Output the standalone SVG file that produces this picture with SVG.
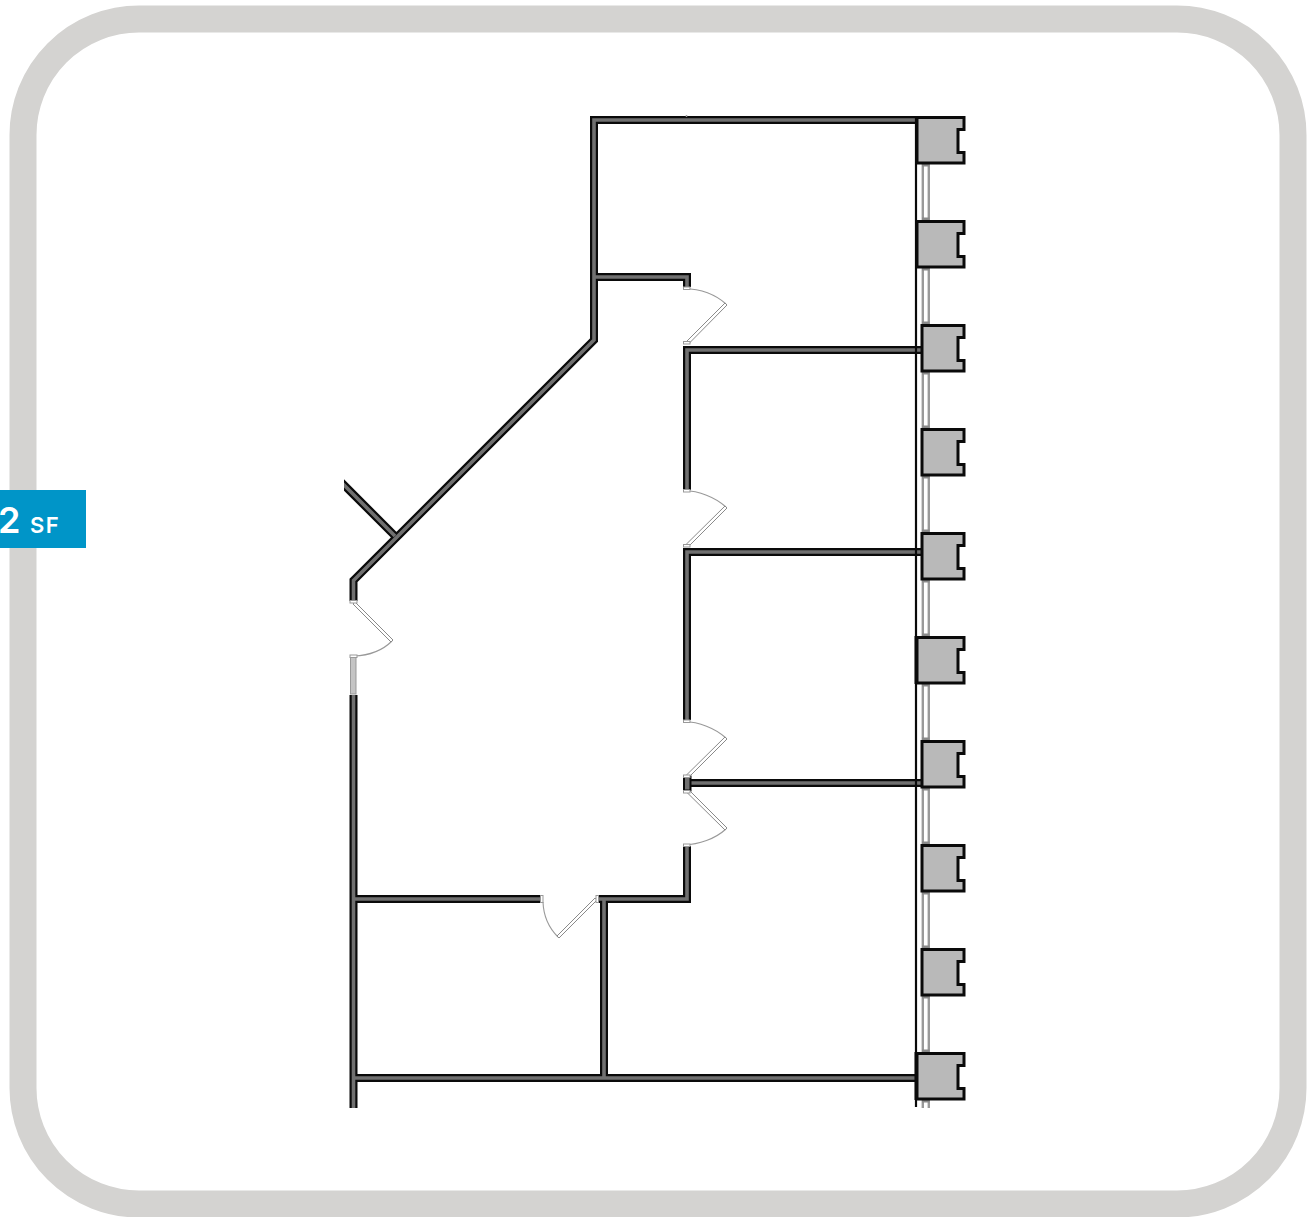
<svg xmlns="http://www.w3.org/2000/svg" width="1315" height="1217" viewBox="0 0 1315 1217">
<style>
.wo{fill:none;stroke:#0a0a0a;stroke-width:8;stroke-linejoin:miter;stroke-linecap:butt}
.wi{fill:none;stroke:#707070;stroke-width:3.600;stroke-linejoin:miter;stroke-linecap:butt}
.col{fill:#b9b9b9;stroke:#0a0a0a;stroke-width:3;stroke-linejoin:miter}
.arc{fill:none;stroke:#999;stroke-width:1.1}
.leaf{fill:#fff;stroke:#8a8a8a;stroke-width:1}
.jamb{fill:#fff;stroke:#999;stroke-width:1}
.win{fill:#fff;stroke:#999;stroke-width:2.400}
.cap{fill:#8a8a8a}
.lbl{font-family:Inter,"Open Sans",sans-serif;fill:#fff;font-weight:600}
</style>
<defs>
<path id="cw" class="col" d="M917 0H964V12H958V35H964V45.500H917Z"/>
<path id="cn" class="col" d="M922 0H964V12H958V35H964V45.500H922Z"/>
<clipPath id="plan"><rect x="344" y="100" width="640" height="1020"/></clipPath>
</defs>
<rect id="frame" x="23" y="19" width="1270" height="1185" rx="116" ry="116" fill="#fff" stroke="#d4d3d1" stroke-width="27"/>
<g id="windows">
<rect class="win" x="922.800" y="164" width="6" height="56"/><rect class="cap" x="922" y="164" width="7.500" height="2.500"/><rect class="cap" x="922" y="217.500" width="7.500" height="2.500"/>
<rect class="win" x="922.800" y="268" width="6" height="56"/><rect class="cap" x="922" y="268" width="7.500" height="2.500"/><rect class="cap" x="922" y="321.500" width="7.500" height="2.500"/>
<rect class="win" x="922.800" y="372" width="6" height="56"/><rect class="cap" x="922" y="372" width="7.500" height="2.500"/><rect class="cap" x="922" y="425.500" width="7.500" height="2.500"/>
<rect class="win" x="922.800" y="476" width="6" height="56"/><rect class="cap" x="922" y="476" width="7.500" height="2.500"/><rect class="cap" x="922" y="529.500" width="7.500" height="2.500"/>
<rect class="win" x="922.800" y="580" width="6" height="56"/><rect class="cap" x="922" y="580" width="7.500" height="2.500"/><rect class="cap" x="922" y="633.500" width="7.500" height="2.500"/>
<rect class="win" x="922.800" y="684" width="6" height="56"/><rect class="cap" x="922" y="684" width="7.500" height="2.500"/><rect class="cap" x="922" y="737.500" width="7.500" height="2.500"/>
<rect class="win" x="922.800" y="788" width="6" height="56"/><rect class="cap" x="922" y="788" width="7.500" height="2.500"/><rect class="cap" x="922" y="841.500" width="7.500" height="2.500"/>
<rect class="win" x="922.800" y="892" width="6" height="56"/><rect class="cap" x="922" y="892" width="7.500" height="2.500"/><rect class="cap" x="922" y="945.500" width="7.500" height="2.500"/>
<rect class="win" x="922.800" y="996" width="6" height="56"/><rect class="cap" x="922" y="996" width="7.500" height="2.500"/><rect class="cap" x="922" y="1049.500" width="7.500" height="2.500"/>
<path d="M922.800 1100V1108M928.800 1100V1108" class="win"/><rect class="cap" x="922" y="1100" width="7.500" height="2.500"/>
<rect x="350.500" y="657" width="5.500" height="37" fill="#c4c4c4" stroke="#999" stroke-width="1"/>
</g>
<g id="walls">
<g clip-path="url(#plan)">
<path class="wo" d="M916 120H594V340L353.500 580.500V601M340 481L395 536M594 277H687V287M687 490V350H922M687 720V552H922M687 783H922M687 846V899H597M541 899H353.500M604 899V1078M353.500 695V1108M353.500 1078H916"/>
<path class="wi" d="M916 120H594V340L353.500 580.500V601M340 481L395 536M594 277H687V287M687 490V350H922M687 720V552H922M687 783H922M687 846V899H597M541 899H353.500M604 899V1078M353.500 695V1108M353.500 1078H916"/>
</g>
<rect x="684" y="776.500" width="6.500" height="14" fill="#707070" stroke="#0a0a0a" stroke-width="2"/>
<path d="M916 116V1107" stroke="#0a0a0a" stroke-width="2.200" fill="none"/>
<path d="M686.500 115v2" stroke="#999" stroke-width="1.500"/>
</g>
<g id="columns">
<use href="#cw" y="117.500"/>
<use href="#cw" y="221.500"/>
<use href="#cn" y="325.500"/>
<use href="#cn" y="429.500"/>
<use href="#cn" y="533.500"/>
<use href="#cw" y="637.500"/>
<use href="#cn" y="741.500"/>
<use href="#cn" y="845.500"/>
<use href="#cn" y="949.500"/>
<use href="#cw" y="1053.500"/>
<rect x="914.500" y="636" width="2.500" height="48" fill="#0a0a0a"/>
<rect x="914.500" y="1052" width="2.500" height="48" fill="#0a0a0a"/>
</g>
<g id="doors">
<g id="door-1"><path class="arc" d="M684 288.500C699 289 715 294 726 304"/><path class="leaf" d="M725 303L727 305 689 343.500 686.500 341.500Z"/><rect class="jamb" x="683.500" y="287" width="6.500" height="2.500"/><rect class="jamb" x="683.500" y="341.500" width="6.500" height="2.500"/></g>
<g id="door-2"><path class="arc" d="M684 490.500C699 491 715 497 726 507"/><path class="leaf" d="M725 506L727 508 689 546 686.500 544Z"/><rect class="jamb" x="683.500" y="489.500" width="6.500" height="2.500"/><rect class="jamb" x="683.500" y="544.500" width="6.500" height="2.500"/></g>
<g id="door-3"><path class="arc" d="M684 721.500C699 722 715 728 726 738"/><path class="leaf" d="M725 737L727 739 689 777 686.500 775Z"/><rect class="jamb" x="683.500" y="720" width="6.500" height="2.500"/><rect class="jamb" x="683.500" y="775" width="6.500" height="2.500"/></g>
<g id="door-4"><path class="arc" d="M684 845C699 844.500 715 839 726 829"/><path class="leaf" d="M725 830L727 828 689 790 686.500 792Z"/><rect class="jamb" x="683.500" y="790.500" width="6.500" height="2.500"/><rect class="jamb" x="683.500" y="844" width="6.500" height="2.500"/></g>
<g id="door-5"><path class="arc" d="M543 902C543.500 916 549 928 558 937"/><path class="leaf" d="M557 936L559 938 597 900 595 898Z"/><rect class="jamb" x="540.500" y="895.500" width="2.500" height="7"/><rect class="jamb" x="596" y="895.500" width="2.500" height="7"/></g>
<g id="door-6"><path class="arc" d="M354 656C368 655.500 382 651 392 641"/><path class="leaf" d="M391 642L393 640 355 602 353 604Z"/><rect class="jamb" x="350" y="600.500" width="7" height="2.500"/><rect class="jamb" x="350" y="655" width="7" height="2.500"/></g>
</g>
<g id="label">
<rect x="0" y="490" width="86" height="58" fill="#0095c8"/>
<text class="lbl" x="-2" y="533" font-size="36">2</text>
<text class="lbl" x="30" y="533" font-size="22" letter-spacing="1.500">SF</text>
</g>
</svg>
